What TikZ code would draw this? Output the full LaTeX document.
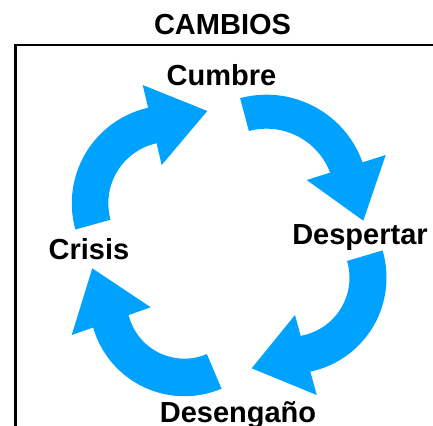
\documentclass[tikz,border=0pt]{standalone}
\usepackage{fontspec}
\setmainfont{Liberation Sans}
\definecolor{arrowblue}{RGB}{0,162,255}
\begin{document}
\begin{tikzpicture}[x=1pt,y=1pt,
  label/.style={inner sep=0pt,anchor=base,font=\bfseries\fontsize{29}{29}\selectfont,text=black},
  band/.style={fill=arrowblue},
  frame/.style={draw=black,line width=2.4pt}]
\useasboundingbox (0,0) rectangle (433,-425);
% frame corner
\coordinate (fr1) at (440,-45.3);
\coordinate (fr2) at (15.3,-45.3);
\coordinate (fr3) at (15.3,-440);
\draw[frame] (fr1) -- (fr2) -- (fr3);
% top-right arrow
\begin{scope}[shift={(266.5,-196.7)}]
\fill[band] (105:102) arc[start angle=105,end angle=17,radius=102] -- (17:68) arc[start angle=17,end angle=105,radius=68] -- cycle;
\end{scope}
\fill[band] (385.7,-155) -- (363.3,-220.7) -- (306.7,-180) -- cycle;
% bottom-right arrow
\begin{scope}[shift={(290.5,-277.7)}]
\fill[band] (16.5:96) arc[start angle=16.5,end angle=-86,radius=96] -- (-86:59) arc[start angle=-86,end angle=16.5,radius=59] -- cycle;
\end{scope}
\fill[band] (316.7,-395) -- (251.7,-368.3) -- (295,-315) -- cycle;
% bottom-left arrow
\begin{scope}[shift={(184.4,-301.2)}]
\fill[band] (-67:95) arc[start angle=-67,end angle=-173,radius=95] -- (-173:57.5) arc[start angle=-173,end angle=-67,radius=57.5] -- cycle;
\end{scope}
\fill[band] (71.7,-335) -- (92.3,-268.3) -- (150.7,-307.3) -- cycle;
% top-left arrow
\begin{scope}[shift={(169.8,-203.3)}]
\fill[band] (195.5:98) arc[start angle=195.5,end angle=97,radius=98] -- (97:61.5) arc[start angle=97,end angle=195.5,radius=61.5] -- cycle;
\end{scope}
\fill[band] (142.7,-85) -- (207.3,-111) -- (161.7,-165) -- cycle;
% labels
\node[label] (title) at (222.5,-35) {CAMBIOS};
\node[label] (cumbre) at (221.5,-85) {Cumbre};
\node[label] (despertar) at (360,-244.5) {Despertar};
\node[label] (crisis) at (89,-259.5) {Crisis};
\node[label] (desengano) at (238,-422.5) {Desengaño};
\end{tikzpicture}
\end{document}
